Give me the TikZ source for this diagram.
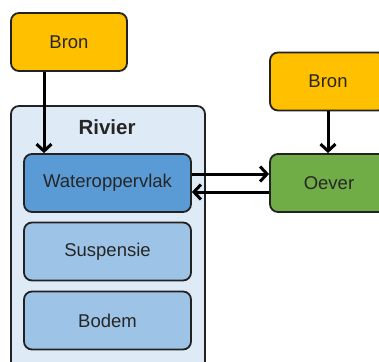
\documentclass[tikz,border=0pt]{standalone}
\usepackage{fontspec}
\setmainfont{Liberation Sans}
\usetikzlibrary{arrows.meta}
\definecolor{bronfill}{HTML}{FFC000}
\definecolor{oeverfill}{HTML}{70AD47}
\definecolor{waterfill}{HTML}{5B9BD5}
\definecolor{laagfill}{HTML}{9DC3E6}
\definecolor{rivierfill}{HTML}{DEEBF7}
\definecolor{rand}{HTML}{222222}
\tikzset{
  blok/.style={draw=rand, line width=1.8pt, rounded corners=8pt, text=black!85,
    font=\fontsize{18.5}{22}\selectfont},
  bronblok/.style={blok, fill=bronfill, minimum width=116pt, minimum height=58pt},
  laagblok/.style={blok, minimum width=167pt, minimum height=58pt},
  flow/.style={-{Straight Barb[length=7pt,width=15pt]}, line width=3pt},
}
\begin{document}
\begin{tikzpicture}[x=1pt,y=-1pt]
  \useasboundingbox (0,0) rectangle (379,361);
  \clip (0,0) rectangle (379,361);
  % rivier met lagen
  \node[blok, fill=rivierfill, minimum width=194pt, minimum height=270pt] (rivier) at (108,241) {};
  \node[font=\fontsize{20.5}{24}\selectfont\bfseries, text=black!85] (rivlbl) at (107,127) {Rivier};
  \node[laagblok, fill=waterfill] (water) at (107.5,183) {Wateroppervlak};
  \node[laagblok, fill=laagfill] (susp) at (107.5,251.5) {Suspensie};
  \node[laagblok, fill=laagfill] (bodem) at (107.5,320.5) {Bodem};
  % bronnen en oever
  \node[bronblok] (bron1) at (69,42) {Bron};
  \node[bronblok] (bron2) at (328,81.5) {Bron};
  \node[blok, fill=oeverfill, minimum width=118pt, minimum height=58pt] (oever) at (329,183) {Oever};
  % pijlen
  \draw[flow] ([xshift=-25pt]bron1.south) -- ([xshift=-25pt]bron1.south |- water.north);
  \draw[flow] (bron2.south) -- (bron2.south |- oever.north);
  \draw[flow] ([yshift=9pt]water.east) -- ([yshift=9pt]oever.west);
  \draw[flow] ([yshift=-9pt]oever.west) -- ([yshift=-9pt]water.east);
\end{tikzpicture}
\end{document}
